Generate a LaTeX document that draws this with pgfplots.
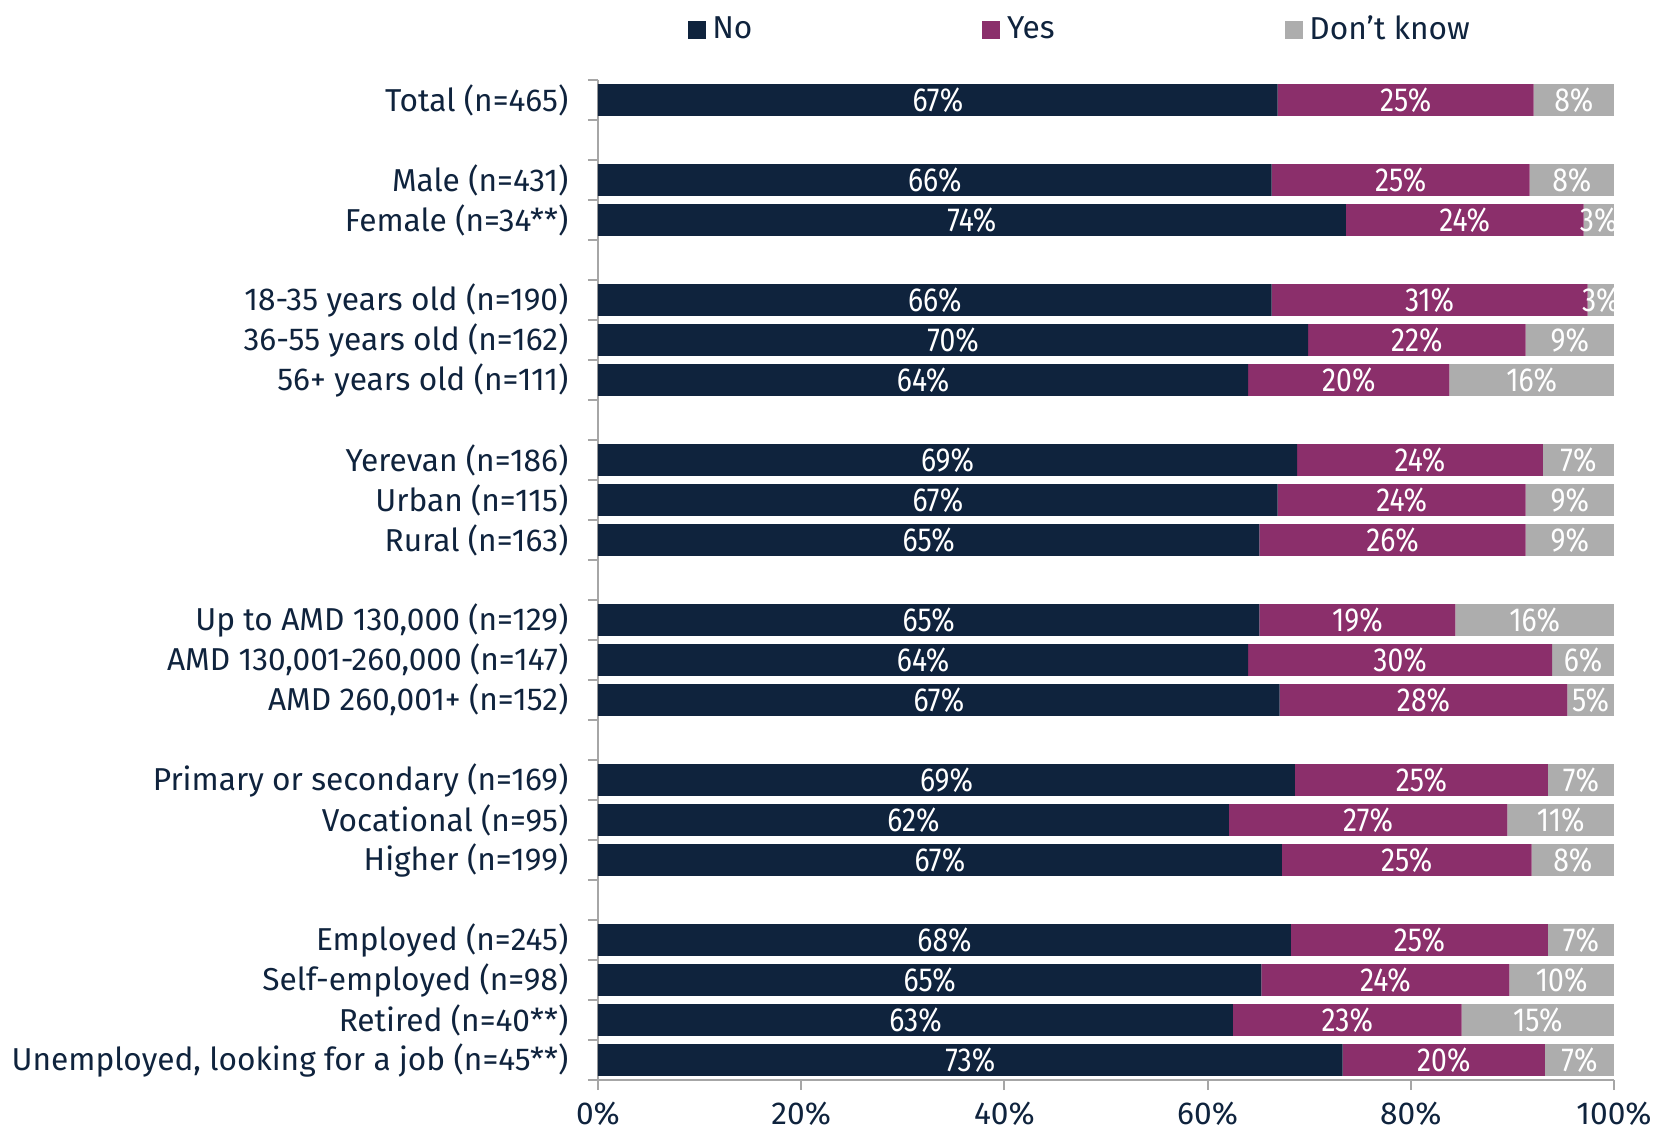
\documentclass[border=0pt]{standalone}
\usepackage{pgfplots}
\pgfplotsset{compat=1.18}
\usepackage{pgfplotstable}
\usepackage{fontspec}
\setmainfont{Fira Sans}
\newfontfamily\barfont{Fira Sans}[FakeStretch=0.85]
\definecolor{cno}{HTML}{0F233D}
\definecolor{cyes}{HTML}{8B2F6B}
\definecolor{cdk}{HTML}{ADADAD}
\definecolor{ctext}{HTML}{0F233D}
\definecolor{caxis}{HTML}{A6A6A6}

\pgfplotstableread{
pos No Yes DK NoL YesL DKL
0 66.9 25.2 7.9 67 25 8
2 66.3 25.4 8.3 66 25 8
3 73.6 23.4 3.0 74 24 3
5 66.3 31.1 2.6 66 31 3
6 69.9 21.4 8.7 70 22 9
7 64.0 19.8 16.2 64 20 16
9 68.8 24.2 7.0 69 24 7
10 66.9 24.4 8.7 67 24 9
11 65.1 26.2 8.7 65 26 9
13 65.1 19.3 15.6 65 19 16
14 64.0 29.9 6.1 64 30 6
15 67.1 28.3 4.6 67 28 5
17 68.6 24.9 6.5 69 25 7
18 62.1 27.4 10.5 62 27 11
19 67.3 24.6 8.1 67 25 8
21 68.2 25.3 6.5 68 25 7
22 65.3 24.4 10.3 65 24 10
23 62.5 22.5 15.0 63 23 15
24 73.3 19.9 6.8 73 20 7
}\data

\pgfplotsset{
  common/.style={at={(0,0)}, anchor=south west,
    scale only axis, width=304.8pt, height=300pt,
    xmin=0, xmax=100, ymin=-0.5, ymax=24.5, y dir=reverse},
}

\begin{document}
\begin{tikzpicture}
\begin{axis}[
  common,
  xbar stacked, bar width=9.5pt,
  axis x line*=bottom, axis y line*=left,
  axis line style={draw=caxis, line width=0.6pt},
  xtick={0,20,40,60,80,100},
  xticklabel={\pgfmathprintnumber{\tick}\%},
  /pgf/number format/assume math mode=true,
  ytick={-0.5,0.5,...,24.5}, yticklabels={},
  major tick length=3pt, tick align=outside,
  tick style={draw=caxis, line width=0.6pt},
  extra y ticks={0,2,3,5,6,7,9,10,11,13,14,15,17,18,19,21,22,23,24},
  extra y tick labels={Total (n=465),Male (n=431),Female (n=34**),18-35 years old (n=190),36-55 years old (n=162),56+ years old (n=111),Yerevan (n=186),Urban (n=115),Rural (n=163),{Up to AMD 130,000 (n=129)},{AMD 130,001-260,000 (n=147)},{AMD 260,001+ (n=152)},Primary or secondary (n=169),Vocational (n=95),Higher (n=199),Employed (n=245),Self-employed (n=98),Retired (n=40**),{Unemployed, looking for a job (n=45**)}},
  extra y tick style={major tick length=0pt},
  y tick label style={font=\fontsize{9.5pt}{11pt}\selectfont, text=ctext, inner sep=0pt, xshift=-8.7pt},
  x tick label style={font=\fontsize{9.5pt}{11pt}\selectfont, text=ctext, yshift=0pt},
  legend style={at={(0.0876,1.050)}, anchor=west, draw=none, fill=none, inner sep=0pt,
    font=\fontsize{9.5pt}{11pt}\selectfont, text=ctext,
    legend columns=3,
    /tikz/every even column/.append style={column sep=67pt}},
  legend image code/.code={\fill[#1] (0pt,-2.7pt) rectangle (5.4pt,2.7pt);},
]
\addplot[fill=cno, draw=none] table[x=No, y=pos] {\data};
\addplot[fill=cyes, draw=none] table[x=Yes, y=pos] {\data};
\addplot[fill=cdk, draw=none] table[x=DK, y=pos] {\data};
\legend{No,Yes,Don’t know}
\end{axis}
\begin{scope}
\clip (0,0) rectangle (304.5pt,300pt);
\begin{axis}[
  common, hide axis,
  nodes near coords={\pgfplotspointmeta\%},
  point meta=explicit symbolic,
  every node near coord/.append style={anchor=center, text=white, inner sep=0pt, font=\barfont\fontsize{10pt}{11pt}\selectfont},
]
\addplot[only marks, mark=none] table[x expr={\thisrow{No}/2}, y=pos, meta=NoL] {\data};
\addplot[only marks, mark=none] table[x expr={\thisrow{No}+\thisrow{Yes}/2}, y=pos, meta=YesL] {\data};
\addplot[only marks, mark=none] table[x expr={\thisrow{No}+\thisrow{Yes}+\thisrow{DK}/2}, y=pos, meta=DKL] {\data};
\end{axis}
\end{scope}
\pgfresetboundingbox
\path (-179.4pt,-15.75pt) rectangle (316.5pt,324pt);
\end{tikzpicture}
\end{document}
